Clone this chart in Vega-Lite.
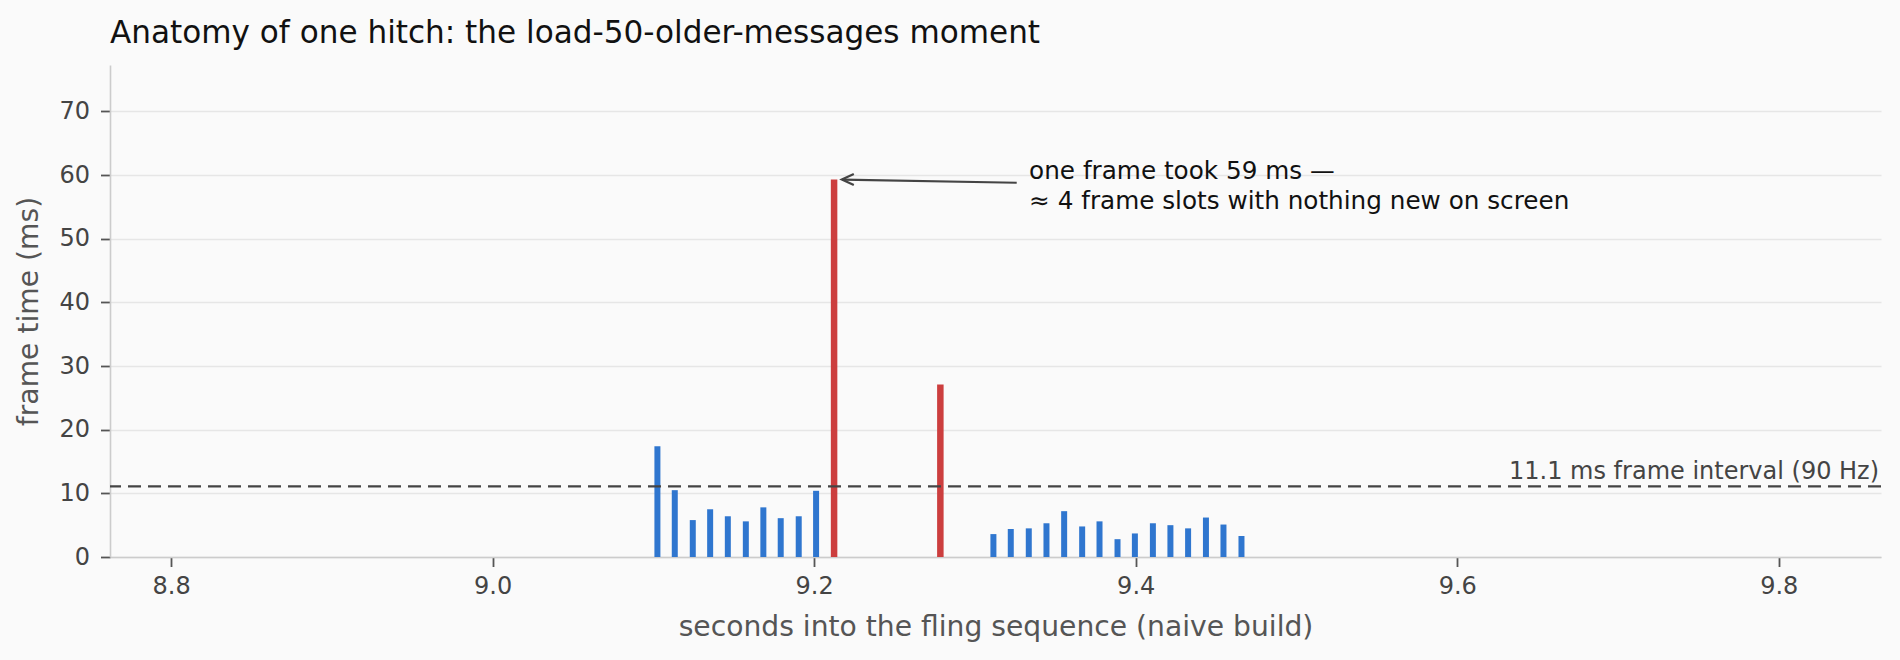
{
  "$schema": "https://vega.github.io/schema/vega-lite/v6.json",
  "width": 1771,
  "height": 492,
  "autosize": {"type": "none"},
  "padding": {"left": 110, "top": 65, "right": 19, "bottom": 103},
  "background": "#fafafa",
  "title": {
    "text": "Anatomy of one hitch: the load-50-older-messages moment",
    "anchor": "start",
    "frame": "group",
    "baseline": "alphabetic",
    "offset": -9,
    "fontSize": 31.1,
    "fontWeight": "normal",
    "color": "#111111"
  },
  "config": {
    "font": "DejaVu Sans",
    "view": {"stroke": null},
    "axis": {
      "domainColor": "#cccccc",
      "domainWidth": 1.6,
      "tickColor": "#555555",
      "tickWidth": 1.8,
      "tickSize": 9.5,
      "labelColor": "#444444",
      "labelFontSize": 24,
      "titleColor": "#555555",
      "titleFontSize": 28.2,
      "titleFontWeight": "normal",
      "gridColor": "#e6e6e6",
      "gridWidth": 1.3
    }
  },
  "layer": [
    {
      "data": {
        "values": [
          {"t": 9.1025, "ms": 17.4, "kind": "normal"},
          {"t": 9.1133, "ms": 10.5, "kind": "normal"},
          {"t": 9.1245, "ms": 5.8, "kind": "normal"},
          {"t": 9.1353, "ms": 7.5, "kind": "normal"},
          {"t": 9.1463, "ms": 6.4, "kind": "normal"},
          {"t": 9.1575, "ms": 5.6, "kind": "normal"},
          {"t": 9.1684, "ms": 7.8, "kind": "normal"},
          {"t": 9.1792, "ms": 6.1, "kind": "normal"},
          {"t": 9.1904, "ms": 6.4, "kind": "normal"},
          {"t": 9.2012, "ms": 10.4, "kind": "normal"},
          {"t": 9.2124, "ms": 59.3, "kind": "hitch"},
          {"t": 9.2785, "ms": 27.1, "kind": "hitch"},
          {"t": 9.3115, "ms": 3.6, "kind": "normal"},
          {"t": 9.3223, "ms": 4.4, "kind": "normal"},
          {"t": 9.3335, "ms": 4.5, "kind": "normal"},
          {"t": 9.3445, "ms": 5.3, "kind": "normal"},
          {"t": 9.3555, "ms": 7.2, "kind": "normal"},
          {"t": 9.3667, "ms": 4.8, "kind": "normal"},
          {"t": 9.3775, "ms": 5.6, "kind": "normal"},
          {"t": 9.3887, "ms": 2.8, "kind": "normal"},
          {"t": 9.3995, "ms": 3.7, "kind": "normal"},
          {"t": 9.4107, "ms": 5.3, "kind": "normal"},
          {"t": 9.4216, "ms": 5.0, "kind": "normal"},
          {"t": 9.4326, "ms": 4.5, "kind": "normal"},
          {"t": 9.4437, "ms": 6.2, "kind": "normal"},
          {"t": 9.4546, "ms": 5.1, "kind": "normal"},
          {"t": 9.4658, "ms": 3.3, "kind": "normal"}
        ]
      },
      "mark": {"type": "bar"},
      "encoding": {
        "x": {
          "field": "t",
          "type": "quantitative",
          "scale": {"domain": [8.762, 9.8636], "nice": false, "zero": false, "padding": 0},
          "axis": {
            "values": [8.8, 9.0, 9.2, 9.4, 9.6, 9.8],
            "format": ".1f",
            "grid": false,
            "labelPadding": 8,
            "titlePadding": 15,
            "title": "seconds into the fling sequence (naive build)"
          }
        },
        "y": {
          "field": "ms",
          "type": "quantitative",
          "scale": {"domain": [0, 77.3], "nice": false},
          "axis": {
            "values": [0, 10, 20, 30, 40, 50, 60, 70],
            "labelPadding": 11,
            "titlePadding": 15,
            "title": "frame time (ms)"
          }
        },
        "color": {
          "field": "kind",
          "type": "nominal",
          "scale": {"domain": ["normal", "hitch"], "range": ["#2f76cf", "#cc3e3e"]},
          "legend": null
        },
        "size": {
          "field": "kind",
          "type": "nominal",
          "scale": {"domain": ["normal", "hitch"], "range": [6, 6.5]},
          "legend": null
        }
      }
    },
    {
      "data": {"values": [{"label": "11.1 ms frame interval (90 Hz)"}]},
      "mark": {"type": "rule", "color": "#444444", "strokeWidth": 2.4, "strokeDash": [13, 7]},
      "encoding": {"y": {"datum": 11.1}}
    },
    {
      "data": {"values": [{"label": "11.1 ms frame interval (90 Hz)"}]},
      "mark": {"type": "text", "align": "right", "baseline": "alphabetic", "dy": -7, "fontSize": 24, "color": "#444444"},
      "encoding": {
        "x": {"datum": 9.8624},
        "y": {"datum": 11.1},
        "text": {"field": "label"}
      }
    },
    {
      "data": {"values": [{"note": "arrow"}]},
      "mark": {"type": "rule", "color": "#444444", "strokeWidth": 2.2},
      "encoding": {
        "x": {"datum": 9.326},
        "y": {"datum": 58.8},
        "x2": {"datum": 9.2175},
        "y2": {"datum": 59.3}
      }
    },
    {
      "data": {"values": [{"note": "arrowhead"}]},
      "mark": {"type": "point", "shape": "M1,-0.46L0,0L1,0.46", "filled": false, "size": 576, "stroke": "#444444", "strokeWidth": 2.2, "opacity": 1},
      "encoding": {
        "x": {"datum": 9.2172},
        "y": {"datum": 59.3}
      }
    },
    {
      "data": {"values": [{"note": "annotation"}]},
      "mark": {"type": "text", "align": "left", "baseline": "alphabetic", "fontSize": 24.7, "lineHeight": 29.5, "color": "#111111"},
      "encoding": {
        "x": {"datum": 9.3337},
        "y": {"datum": 59.34},
        "text": {"value": ["one frame took 59 ms —", "≈ 4 frame slots with nothing new on screen"]}
      }
    }
  ]
}
